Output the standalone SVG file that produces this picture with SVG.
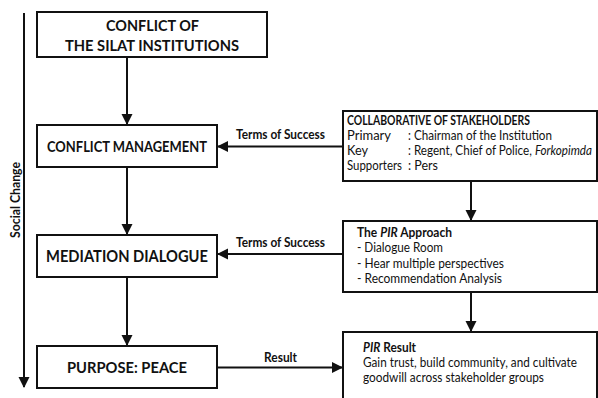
<svg xmlns="http://www.w3.org/2000/svg" width="598" height="398" viewBox="0 0 598 398">
<style>
  .box{fill:#fff;stroke:#111;stroke-width:2}
  .ln{stroke:#111;stroke-width:2;fill:none}
  text{font-family:Lato,"Open Sans","Liberation Sans",sans-serif;fill:#111}
  .h{font-weight:700}
  .lbl{font-weight:700;font-size:12.5px}
  .b{font-size:12.8px}
</style>
<defs>
  <marker id="ah" markerUnits="userSpaceOnUse" markerWidth="12" markerHeight="12" refX="10" refY="5.5" orient="auto">
    <path d="M0,0 L11,5.5 L0,11 z" fill="#111"/>
  </marker>
</defs>
<g id="connectors">
  <line class="ln" x1="24" y1="13" x2="24" y2="387" marker-end="url(#ah)"/>
  <line class="ln" x1="127" y1="57" x2="127" y2="124" marker-end="url(#ah)"/>
  <line class="ln" x1="127" y1="167" x2="127" y2="234" marker-end="url(#ah)"/>
  <line class="ln" x1="127" y1="277" x2="127" y2="345" marker-end="url(#ah)"/>
  <line class="ln" x1="342" y1="146.5" x2="218" y2="146.5" marker-end="url(#ah)"/>
  <line class="ln" x1="342" y1="254" x2="218" y2="254" marker-end="url(#ah)"/>
  <line class="ln" x1="217" y1="367.5" x2="342" y2="367.5" marker-end="url(#ah)"/>
  <line class="ln" x1="471" y1="181" x2="471" y2="220" marker-end="url(#ah)"/>
  <line class="ln" x1="471" y1="292" x2="471" y2="331" marker-end="url(#ah)"/>
  <text class="lbl" x="236" y="139" textLength="89" lengthAdjust="spacingAndGlyphs">Terms of Success</text>
  <text class="lbl" x="236" y="247" textLength="89" lengthAdjust="spacingAndGlyphs">Terms of Success</text>
  <text class="lbl" x="264" y="362" textLength="33" lengthAdjust="spacingAndGlyphs">Result</text>
  <text class="lbl" transform="translate(19.5,200) rotate(-90)" text-anchor="middle" textLength="76" lengthAdjust="spacingAndGlyphs">Social Change</text>
</g>
<g id="conflict-of-silat">
  <rect class="box" x="37" y="12" width="230" height="45"/>
  <text class="h" x="106" y="30.5" font-size="15.5" textLength="93" lengthAdjust="spacingAndGlyphs">CONFLICT OF</text>
  <text class="h" x="65" y="51" font-size="15.5" textLength="174" lengthAdjust="spacingAndGlyphs">THE SILAT INSTITUTIONS</text>
</g>
<g id="conflict-management">
  <rect class="box" x="37" y="125" width="180" height="42"/>
  <text class="h" x="47" y="152" font-size="15" textLength="160" lengthAdjust="spacingAndGlyphs">CONFLICT MANAGEMENT</text>
</g>
<g id="mediation-dialogue">
  <rect class="box" x="37" y="235" width="180" height="42"/>
  <text class="h" x="46" y="262" font-size="17.5" textLength="162" lengthAdjust="spacingAndGlyphs">MEDIATION DIALOGUE</text>
</g>
<g id="purpose-peace">
  <rect class="box" x="37" y="346" width="180" height="42"/>
  <text class="h" x="67" y="373" font-size="16" textLength="120" lengthAdjust="spacingAndGlyphs">PURPOSE: PEACE</text>
</g>
<g id="collaborative">
  <rect class="box" x="343" y="111" width="254" height="70"/>
  <text class="h b" x="347" y="125" textLength="183" lengthAdjust="spacingAndGlyphs" font-size="12.5">COLLABORATIVE OF STAKEHOLDERS</text>
  <text class="b" x="347" y="140" textLength="44" lengthAdjust="spacingAndGlyphs">Primary</text>
  <text class="b" x="408" y="140" textLength="144" lengthAdjust="spacingAndGlyphs">: Chairman of the Institution</text>
  <text class="b" x="347" y="155" textLength="21" lengthAdjust="spacingAndGlyphs">Key</text>
  <text class="b" x="408" y="155" textLength="184" lengthAdjust="spacingAndGlyphs">: Regent, Chief of Police, <tspan font-style="italic">Forkopimda</tspan></text>
  <text class="b" x="347" y="170" textLength="55" lengthAdjust="spacingAndGlyphs">Supporters</text>
  <text class="b" x="408" y="170" textLength="30" lengthAdjust="spacingAndGlyphs">: Pers</text>
</g>
<g id="pir-approach">
  <rect class="box" x="343" y="221" width="254" height="71"/>
  <text class="h b" x="357" y="237" textLength="95" lengthAdjust="spacingAndGlyphs">The <tspan font-style="italic">PIR</tspan> Approach</text>
  <text class="b" x="357" y="252" textLength="86" lengthAdjust="spacingAndGlyphs">- Dialogue Room</text>
  <text class="b" x="357" y="268" textLength="147" lengthAdjust="spacingAndGlyphs">- Hear multiple perspectives</text>
  <text class="b" x="357" y="283" textLength="145" lengthAdjust="spacingAndGlyphs">- Recommendation Analysis</text>
</g>
<g id="pir-result">
  <rect class="box" x="343" y="332" width="254" height="80"/>
  <text class="h b" x="363" y="352" textLength="53" lengthAdjust="spacingAndGlyphs"><tspan font-style="italic">PIR</tspan> Result</text>
  <text class="b" x="363" y="367" textLength="214" lengthAdjust="spacingAndGlyphs">Gain trust, build community, and cultivate</text>
  <text class="b" x="363" y="382" textLength="181" lengthAdjust="spacingAndGlyphs">goodwill across stakeholder groups</text>
</g>
</svg>
